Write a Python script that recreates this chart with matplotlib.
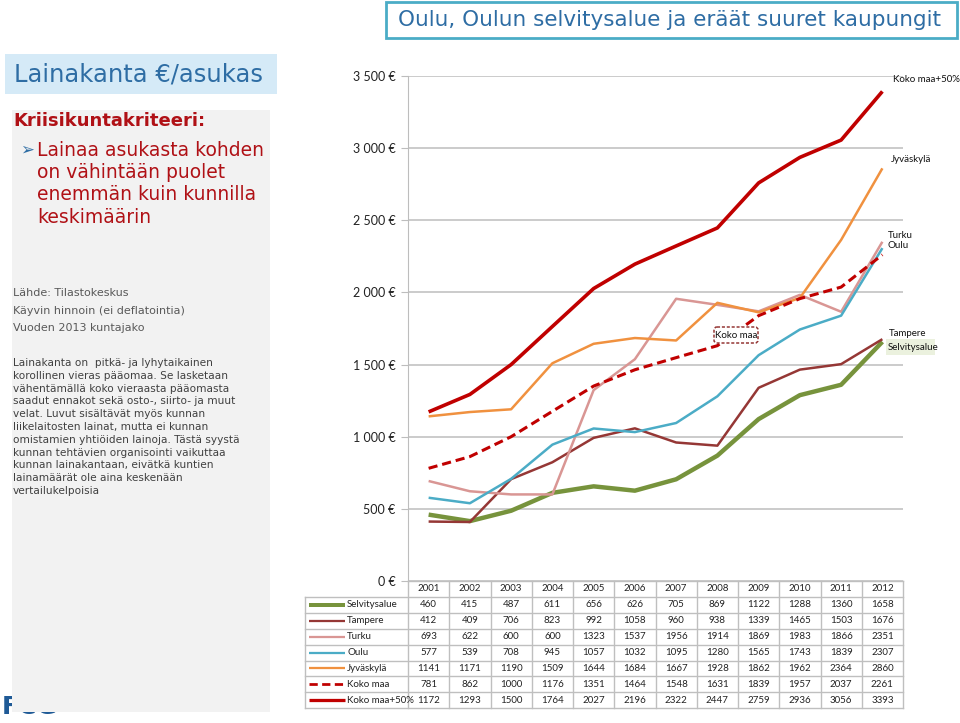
import matplotlib
matplotlib.use("Agg")
import matplotlib.pyplot as plt
from matplotlib.patches import Rectangle, FancyBboxPatch
from matplotlib.lines import Line2D

# ---------------- data ----------------
years = ["2001", "2002", "2003", "2004", "2005", "2006", "2007", "2008", "2009", "2010", "2011", "2012"]
series_names = ["Selvitysalue", "Tampere", "Turku", "Oulu", "Jyväskylä", "Koko maa", "Koko maa+50%"]
selvitysalue = [460, 415, 487, 611, 656, 626, 705, 869, 1122, 1288, 1360, 1658]
tampere = [412, 409, 706, 823, 992, 1058, 960, 938, 1339, 1465, 1503, 1676]
turku = [693, 622, 600, 600, 1323, 1537, 1956, 1914, 1869, 1983, 1866, 2351]
oulu = [577, 539, 708, 945, 1057, 1032, 1095, 1280, 1565, 1743, 1839, 2307]
jyvaskyla = [1141, 1171, 1190, 1509, 1644, 1684, 1667, 1928, 1862, 1962, 2364, 2860]
koko_maa = [781, 862, 1000, 1176, 1351, 1464, 1548, 1631, 1839, 1957, 2037, 2261]
koko_maa_50 = [1172, 1293, 1500, 1764, 2027, 2196, 2322, 2447, 2759, 2936, 3056, 3393]
yticks = [0, 500, 1000, 1500, 2000, 2500, 3000, 3500]
ytick_labels = ["0 €", "500 €", "1 000 €", "1 500 €", "2 000 €", "2 500 €", "3 000 €", "3 500 €"]

title_text = "Oulu, Oulun selvitysalue ja eräät suuret kaupungit"
heading_text = "Lainakanta €/asukas"
criteria_head = "Kriisikuntakriteeri:"
criteria_lines = ["Lainaa asukasta kohden", "on vähintään puolet", "enemmän kuin kunnilla", "keskimäärin"]
source_lines = ["Lähde: Tilastokeskus", "Käyvin hinnoin (ei deflatointia)", "Vuoden 2013 kuntajako"]
para_lines = ["Lainakanta on  pitkä- ja lyhytaikainen",
              "korollinen vieras pääomaa. Se lasketaan",
              "vähentämällä koko vieraasta pääomasta",
              "saadut ennakot sekä osto-, siirto- ja muut",
              "velat. Luvut sisältävät myös kunnan",
              "liikelaitosten lainat, mutta ei kunnan",
              "omistamien yhtiöiden lainoja. Tästä syystä",
              "kunnan tehtävien organisointi vaikuttaa",
              "kunnan lainakantaan, eivätkä kuntien",
              "lainamäärät ole aina keskenään",
              "vertailukelpoisia"]

series = [selvitysalue, tampere, turku, oulu, jyvaskyla, koko_maa, koko_maa_50]
colors = ["#77933C", "#953735", "#D99694", "#4BACC6", "#F0913F", "#C00000", "#C00000"]
widths = [3.2, 1.8, 1.8, 1.8, 1.8, 2.2, 2.6]
styles = ["-", "-", "-", "-", "-", (0, (3, 1.6)), "-"]

W, H = 960, 723
fig = plt.figure(figsize=(W / 100, H / 100), dpi=100)
plt.rcParams['font.family'] = ['DejaVu Sans']

# overlay in pixel coordinates for decoration
ov = fig.add_axes([0, 0, 1, 1], zorder=0)
ov.set_xlim(0, W)
ov.set_ylim(H, 0)
ov.axis("off")

# logo (mostly hidden)
ov.text(2, 707, "FCG", color="#1F5A96", fontsize=18, fontweight="bold", va="center", ha="left", zorder=1)

# title box
ov.add_patch(Rectangle((386, 2), 571, 36, facecolor="white", edgecolor="#4BACC6", lw=2, zorder=2))
ov.text(670, 20, title_text, color="#2E6DA4", fontsize=15.5, ha="center", va="center", zorder=3)

# heading box
ov.add_patch(Rectangle((5, 54), 272, 40, facecolor="#D5EAF7", edgecolor="none", zorder=2))
ov.text(14, 74, heading_text, color="#2E6DA4", fontsize=17.5, ha="left", va="center", zorder=3)

# grey panel
ov.add_patch(Rectangle((12, 110), 258, 602, facecolor="#F2F2F2", edgecolor="none", zorder=2))
ov.text(13, 121, criteria_head, color="#B01116", fontsize=13, fontweight="bold", ha="left", va="center", zorder=3)
ov.text(20, 150, "➢", color="#2E6DA4", fontsize=12, ha="left", va="center", zorder=3)
for i, s in enumerate(criteria_lines):
    ov.text(37, 150 + i * 22.5, s, color="#B01116", fontsize=13.5, ha="left", va="center", zorder=3)
for i, s in enumerate(source_lines):
    ov.text(13, 293 + i * 17.5, s, color="#595959", fontsize=8, ha="left", va="center", zorder=3)
for i, s in enumerate(para_lines):
    ov.text(13, 363 + i * 12.8, s, color="#404040", fontsize=7.6, ha="left", va="center", zorder=3)

# ---------------- chart ----------------
AX_L, AX_R, AX_T, AX_B = 408, 903, 76, 581
ax = fig.add_axes([AX_L / W, 1 - AX_B / H, (AX_R - AX_L) / W, (AX_B - AX_T) / H], zorder=2)
ax.patch.set_alpha(0)
x = list(range(len(years)))
ax.set_xlim(-0.5, len(years) - 0.5)
ax.set_ylim(0, 3500)
ax.set_yticks(yticks)
ax.set_yticklabels(ytick_labels, family=["Lato", "DejaVu Sans"], fontsize=9, color="#222222")
ax.yaxis.grid(True, color="#BDBDBD", lw=1.1)
ax.set_axisbelow(True)
ax.tick_params(axis="y", length=5, color="#BDBDBD", pad=4)
ax.set_xticks([])
for sp in ["top", "right", "bottom"]:
    ax.spines[sp].set_visible(False)
ax.spines["left"].set_color("#BDBDBD")

order = [2, 3, 4, 1, 0, 5, 6]
for i in order:
    ax.plot(x, series[i], color=colors[i], lw=widths[i], linestyle=styles[i],
            solid_capstyle="butt", zorder=3 + i)

lab_font = dict(family=["Lato", "DejaVu Sans"], fontsize=7, color="#111111", clip_on=False)
ov2 = fig.add_axes([0, 0, 1, 1], zorder=4)
ov2.set_xlim(0, W)
ov2.set_ylim(H, 0)
ov2.axis("off")
ov2.text(893, 80, "Koko maa+50%", ha="left", va="center", **lab_font)
ov2.text(891, 160, "Jyväskylä", ha="left", va="center", **lab_font)
ov2.text(888, 235, "Turku", ha="left", va="center", **lab_font)
ov2.text(888, 245, "Oulu", ha="left", va="center", **lab_font)
ov2.text(889, 333, "Tampere", ha="left", va="center", **lab_font)
ov2.add_patch(Rectangle((886, 339), 49, 16, facecolor="#EBF1DE", edgecolor="none"))
ov2.text(888, 347, "Selvitysalue", ha="left", va="center", **lab_font)
ov2.add_patch(FancyBboxPatch((714, 327), 44, 16, boxstyle="round,pad=0,rounding_size=3",
                             facecolor="white", edgecolor="#953735", lw=1.1, linestyle=(0, (2, 1.2))))
ov2.text(736, 335, "Koko maa", ha="center", va="center", **lab_font)

# ---------------- data table ----------------
TL, TC = 305, AX_L
col_w = (AX_R - AX_L) / len(years)
row_h = 15.9
top = AX_B
gcol = "#BFBFBF"
nrows = len(series_names) + 1
bottom = top + row_h * nrows
ov2.plot([TC, AX_R], [top, top], color=gcol, lw=1)
for r in range(1, nrows + 1):
    y = top + r * row_h
    ov2.plot([TL, AX_R], [y, y], color=gcol, lw=1)
ov2.plot([TL, TL], [top + row_h, bottom], color=gcol, lw=1)
for c in range(len(years) + 1):
    xx = TC + c * col_w
    ov2.plot([xx, xx], [top, bottom], color=gcol, lw=1)

tab_font = dict(family=["Lato", "DejaVu Sans"], fontsize=7, color="#222222")
for c, yr in enumerate(years):
    ov2.text(TC + (c + 0.5) * col_w, top + row_h / 2, yr, ha="center", va="center", **tab_font)
for r, (name, vals) in enumerate(zip(series_names, series)):
    yc = top + (r + 1.5) * row_h
    ov2.add_line(Line2D([309, 345], [yc, yc], color=colors[r], lw=widths[r] * 0.9,
                        linestyle=styles[r] if r == 5 else "-", solid_capstyle="butt"))
    ov2.text(347, yc, name, ha="left", va="center", **tab_font)
    for c, v in enumerate(vals):
        ov2.text(TC + (c + 0.5) * col_w, yc, str(v), ha="center", va="center", **tab_font)

fig.savefig("out.png", dpi=100)
